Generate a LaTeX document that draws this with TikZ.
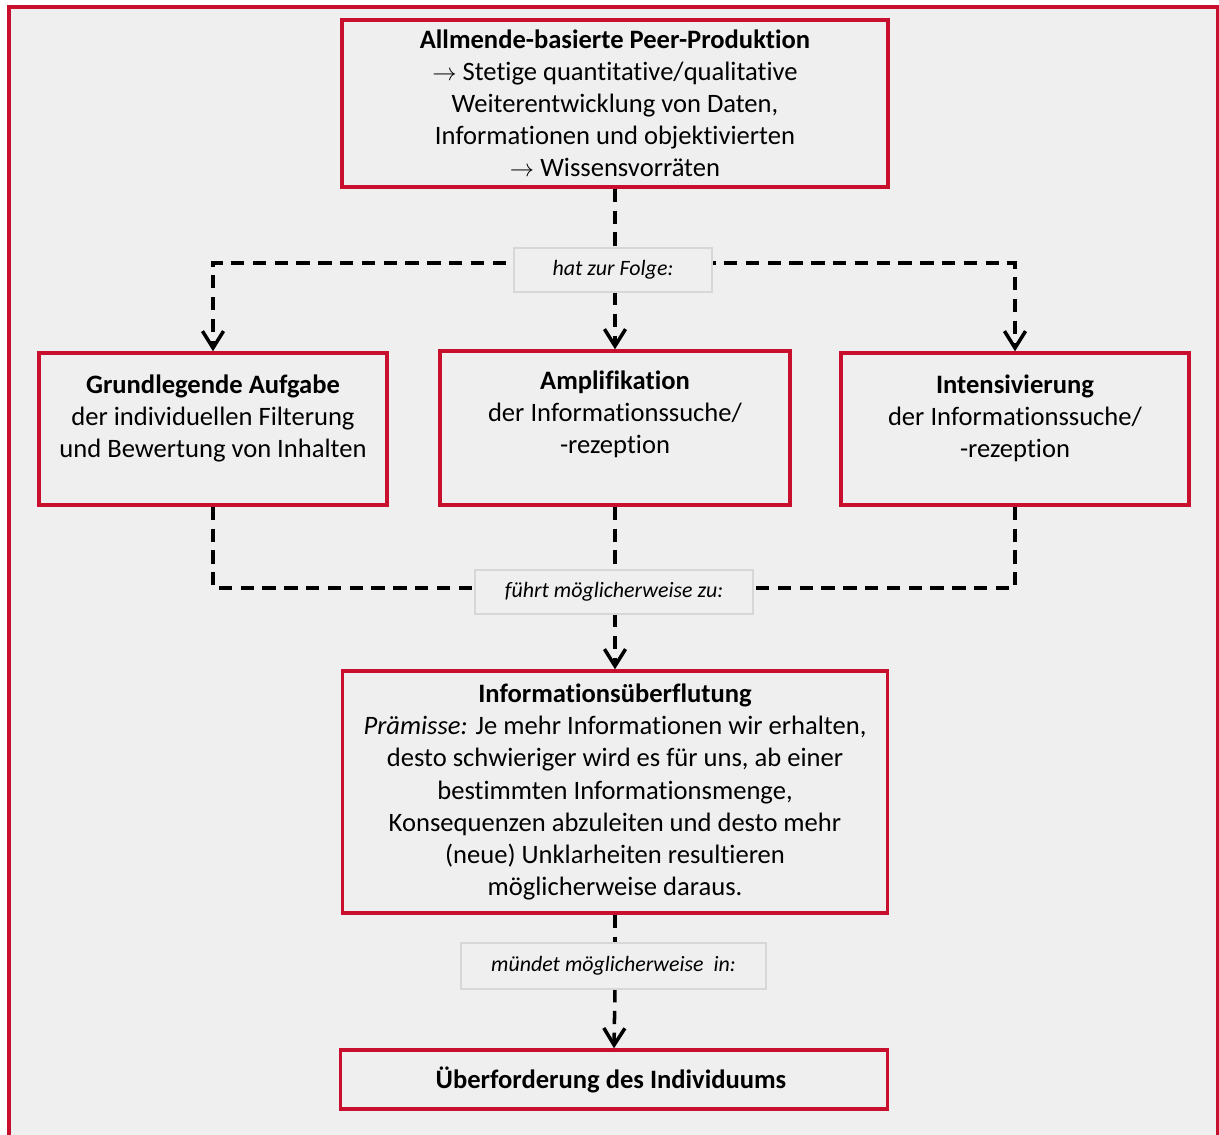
\documentclass[tikz,border=0pt]{standalone}
\usepackage{fontspec}
\setmainfont[Ligatures=NoCommon]{Carlito}
\definecolor{boxred}{RGB}{200, 16, 46}
\definecolor{pagegray}{RGB}{239, 239, 239}
\definecolor{labelgray}{RGB}{215, 215, 215}
\usepackage{tikz}
\usetikzlibrary{arrows.meta, positioning, calc}

\begin{document}
\begin{tikzpicture}[
  x=0.025cm, y=-0.025cm,
  redbox/.style={draw=boxred, line width=2.4pt, fill=pagegray, align=center, inner sep=3pt, font=\fontsize{18.9}{22.8}\selectfont},
  linklabel/.style={draw=labelgray, line width=1.2pt, fill=pagegray, align=center, font=\fontsize{15.6}{18}\selectfont\itshape},
  flow/.style={line width=2.5pt, dash pattern=on 9.5pt off 6pt},
  flowarrow/.style={flow, -{Straight Barb[length=12pt, width=15pt]}}
]
  \useasboundingbox (0,0) rectangle (1219,1135);
  \fill[white] (0,0) rectangle (1219,1135);
  \fill[pagegray] (9,7) rectangle (1218,1140);
  \draw[boxred, line width=2.4pt] (9,1140) -- (9,7) -- (1218,7) -- (1218,1140);

  % boxes
  \node[redbox, minimum width=13.65cm, minimum height=4.175cm] (peer) at (615,103.5) {
    \textbf{Allmende-basierte Peer-Produktion}\\
    $\rightarrow$ Stetige quantitative/qualitative\\
    Weiterentwicklung von Daten,\\
    Informationen und objektivierten\\
    $\rightarrow$ Wissensvorräten
  };
  \node[redbox, minimum width=8.7cm, minimum height=3.8cm, text depth=18pt] (filter) at (213,429) {
    \textbf{Grundlegende Aufgabe}\\
    der individuellen Filterung\\
    und Bewertung von Inhalten
  };
  \node[redbox, minimum width=8.75cm, minimum height=3.85cm, text depth=23pt] (ampl) at (615,428) {
    \textbf{Amplifikation}\\
    der Informationssuche/\\
    -rezeption
  };
  \node[redbox, minimum width=8.7cm, minimum height=3.8cm, text depth=18pt] (intens) at (1015,429) {
    \textbf{Intensivierung}\\
    der Informationssuche/\\
    -rezeption
  };
  \node[redbox, minimum width=13.625cm, minimum height=6.05cm] (flut) at (615,792) {
    \textbf{Informationsüberflutung}\\
    \textit{Prämisse:} Je mehr Informationen wir erhalten,\\
    desto schwieriger wird es für uns, ab einer\\
    bestimmten Informationsmenge,\\
    Konsequenzen abzuleiten und desto mehr\\
    (neue) Unklarheiten resultieren\\
    möglicherweise daraus.
  };
  \node[redbox, minimum width=13.675cm, minimum height=1.475cm] (over) at (614,1079.5) {
    \textbf{Überforderung des Individuums}
  };

  % connectors
  \draw[flow] (peer.south) -- (615,248);
  \draw[flowarrow] (615,263) -| (filter.north);
  \draw[flowarrow] (615,263) -| (intens.north);
  \draw[flowarrow] (615,292) -- (ampl.north);
  \draw[flow] (filter.south) |- (615,588);
  \draw[flow] (intens.south) |- (615,588);
  \draw[flow] (ampl.south) -- (615,570);
  \draw[flowarrow] (615,614) -- (flut.north);
  \draw[flow] (flut.south) -- (615,943);
  \draw[flowarrow] (615,989) -- (over.north);

  % labels
  \node[linklabel, minimum width=4.95cm, minimum height=1.1cm] (folge) at (613,270) {hat zur Folge:};
  \node[linklabel, minimum width=6.95cm, minimum height=1.1cm] (fuehrt) at (614,592) {führt möglicherweise zu:};
  \node[linklabel, minimum width=7.625cm, minimum height=1.15cm] (muendet) at (613.5,966) {mündet möglicherweise\ \ in:};
\end{tikzpicture}
\end{document}
